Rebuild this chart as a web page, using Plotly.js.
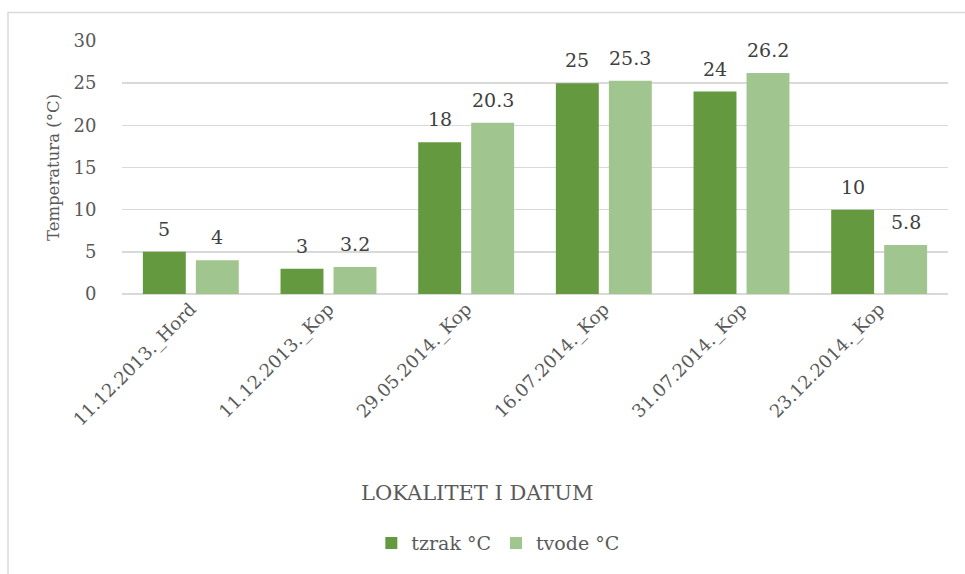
<!DOCTYPE html>
<html>
<head>
<meta charset="utf-8">
<script src="https://cdn.plot.ly/plotly-3.0.1.min.js"></script>
<style>html,body{margin:0;padding:0;background:#fff;}#chart{width:965px;height:574px;}</style>
</head>
<body>
<div id="chart"></div>
<script>
const categories = ["11.12.2013._Hord", "11.12.2013._Kop", "29.05.2014._Kop", "16.07.2014._Kop", "31.07.2014._Kop", "23.12.2014._Kop"];
const tzrak = [5, 3, 18, 25, 24, 10];
const tvode = [4, 3.2, 20.3, 25.3, 26.2, 5.8];
const seriesNames = ["tzrak °C", "tvode °C"];
const yTicks = [0, 5, 10, 15, 20, 25, 30];

const font = "DejaVu Serif";

function barTrace(name, vals, color) {
  return {
    type: "bar", name: name, x: categories, y: vals,
    marker: {color: color, line: {width: 0}},
    hoverinfo: "x+y"
  };
}

const data = [
  barTrace(seriesNames[0], tzrak, "#65993f"),
  barTrace(seriesNames[1], tvode, "#a1c58e")
];

const labelAnn = [];
[[tzrak, -26.5], [tvode, 26.5]].forEach(([vals, dx]) => {
  vals.forEach((v, i) => {
    labelAnn.push({
      x: categories[i], y: v, xref: "x", yref: "y", text: String(v),
      showarrow: false, xanchor: "center", yanchor: "bottom", xshift: dx, yshift: 10,
      font: {family: font, size: 19, color: "#404040"}
    });
  });
});

const layout = {
  width: 965, height: 574,
  margin: {l: 122, r: 17, t: 41, b: 277},
  paper_bgcolor: "#ffffff", plot_bgcolor: "#ffffff",
  font: {family: font, size: 19, color: "#595959"},
  barmode: "group", bargap: 0.23, bargroupgap: 0.19,
  showlegend: true,
  legend: {orientation: "h", x: 0.455, xanchor: "center", y: -0.985, yanchor: "middle",
           font: {family: font, size: 19, color: "#595959"}, itemwidth: 30,
           traceorder: "normal"},
  xaxis: {
    type: "category", tickangle: -45, showgrid: false, zeroline: false,
    showline: false, ticks: "", tickfont: {family: font, size: 18, color: "#595959"},
    automargin: false
  },
  yaxis: {
    range: [0, 30], tickvals: yTicks, ticktext: yTicks.map(String),
    showgrid: true, gridcolor: "#d9d9d9", gridwidth: 1.5,
    zeroline: true, zerolinecolor: "#d9d9d9", zerolinewidth: 1.5,
    ticks: "outside", ticklen: 21, tickcolor: "rgba(0,0,0,0)",
    tickfont: {family: font, size: 18, color: "#595959"},
    title: {text: "Temperatura (°C)", font: {family: font, size: 16.5, color: "#595959"}, standoff: 9},
    automargin: false
  },
  annotations: labelAnn.concat([{
    text: "LOKALITET I DATUM", xref: "paper", yref: "paper",
    x: 0.43, y: -0.785, xanchor: "center", yanchor: "middle", showarrow: false,
    font: {family: font, size: 21, color: "#595959"}
  }]),
  shapes: [{
    type: "rect", xref: "paper", yref: "paper",
    x0: -0.138, x1: 1.03, y0: -1.2, y1: 1.113,
    line: {color: "#d9d9d9", width: 1.5}, fillcolor: "rgba(0,0,0,0)", layer: "below"
  }]
};

Plotly.newPlot("chart", data, layout, {displayModeBar: false, staticPlot: true});
</script>
</body>
</html>
